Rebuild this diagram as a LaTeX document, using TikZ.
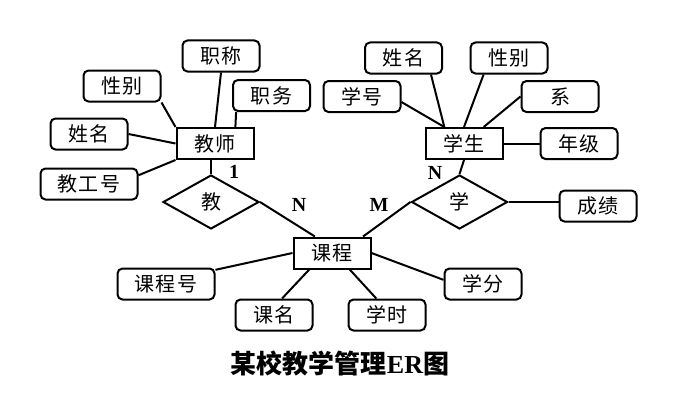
\documentclass[tikz,border=0pt]{standalone}
\usepackage{fontspec}
\setmainfont{Liberation Serif}
\newfontfamily\cjk{Noto Sans CJK SC}
\newfontfamily\cjksp[LetterSpace=9]{Noto Sans CJK SC}
\usetikzlibrary{shapes.geometric}
\tikzset{
  attr/.style={draw, line width=2pt, rounded corners=5pt, minimum width=77pt, minimum height=31pt, inner sep=0pt, font=\cjksp\fontsize{20}{20}\selectfont},
  wattr/.style={attr, minimum width=97pt},
  ent/.style={draw, line width=2pt, minimum width=77pt, minimum height=31pt, inner sep=0pt, font=\cjksp\fontsize{20}{20}\selectfont},
  rel/.style={draw, line width=2pt, diamond, minimum width=96pt, minimum height=54pt, inner sep=0pt, aspect=1.78, font=\cjk\fontsize{20}{20}\selectfont},
  conn/.style={line width=2pt},
  card/.style={font=\bfseries\fontsize{20}{20}\selectfont, inner sep=0pt}
}
\begin{document}
\begin{tikzpicture}[x=1pt,y=-1pt]
\useasboundingbox (0,0) rectangle (684,404);
% teacher side
\node[ent] (teacher) at (215,143.5) {教师};
\node[attr] (zc) at (221,56) {职称};
\node[attr] (xb1) at (122,86) {性别};
\node[attr] (xm1) at (89,134) {姓名};
\node[wattr] (jgh) at (89,184) {教工号};
\node[attr] (zw) at (271.5,95.5) {职务};
\node[rel] (jiao) at (211,202) {教};
% student side
\node[ent] (stu) at (464,143.5) {学生};
\node[attr] (xm2) at (403.5,58) {姓名};
\node[attr] (xb2) at (509,58) {性别};
\node[attr] (xh) at (362,96.5) {学号};
\node[attr] (xi) at (560,96.5) {系};
\node[attr] (nj) at (579,143.5) {年级};
\node[rel] (xue) at (459.5,202) {学};
\node[attr] (cj) at (598,206) {成绩};
% course
\node[ent] (kc) at (332,253) {课程};
\node[wattr] (kch) at (166,284) {课程号};
\node[attr] (km) at (274,315) {课名};
\node[attr] (xs) at (387,315) {学时};
\node[attr] (xf) at (483,284) {学分};
% cardinalities
\node[card] (c1) at (234,172) {1};
\node[card] (cN1) at (299,205) {N};
\node[card] (cM) at (379,205) {M};
\node[card] (cN2) at (435,173) {N};
% title
\node[inner sep=0pt, font=\bfseries\fontsize{26}{26}\selectfont] (title) at (340,363) {{\cjk\bfseries 某校教学管理}ER{\cjk\bfseries 图}};
% connectors teacher
\draw[conn] (zc.south) -- (teacher.north);
\draw[conn] (xb1.south east) -- (teacher.north west);
\draw[conn] (xm1.east) -- (teacher.west);
\draw[conn] (jgh.10) -- (teacher.south west);
\draw[conn] (zw.205) -- (teacher.39);
\draw[conn] (jiao.north) -- (jiao.north |- teacher.south);
\draw[conn] (jiao.east) -- (kc.136);
% connectors student
\draw[conn] (xh.-8) -- (stu.140);
\draw[conn] (xm2.-31) -- (stu.140);
\draw[conn] (xb2.213) -- (stu.north);
\draw[conn] (xi.west) -- (stu.40);
\draw[conn] (stu.east) -- (nj.west);
\draw[conn] (stu.south) -- (xue.north);
\draw[conn] (xue.east) -- (cj.west |- xue.east);
\draw[conn] (xue.west) -- (kc.28);
% connectors course
\draw[conn] (kch.16) -- (kc.west);
\draw[conn] (km.64) -- (kc.216);
\draw[conn] (xs.123) -- (kc.-43);
\draw[conn] (xf.174) -- (kc.east);
\end{tikzpicture}
\end{document}
